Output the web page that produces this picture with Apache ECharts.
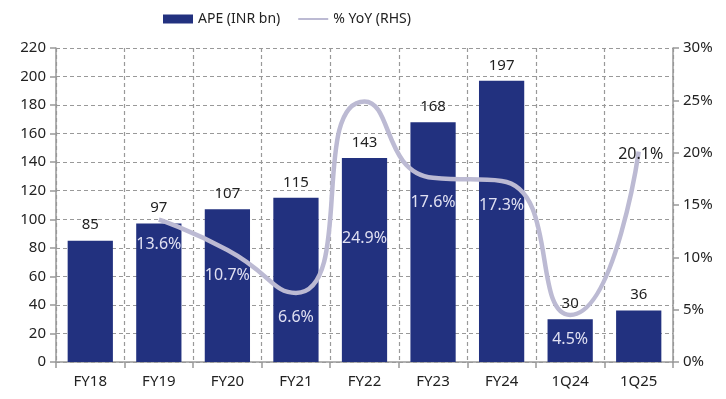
<!DOCTYPE html>
<html>
<head>
<meta charset="utf-8">
<script src="https://cdn.jsdelivr.net/npm/echarts@6/dist/echarts.min.js"></script>
<style>
  html, body { margin: 0; padding: 0; background: #fff; }
  #chart { width: 726px; height: 399px; }
</style>
</head>
<body>
<div id="chart"></div>
<script>
// 数据
let categories = ['FY18', 'FY19', 'FY20', 'FY21', 'FY22', 'FY23', 'FY24', '1Q24', '1Q25'];
let apeValues = [85, 97, 107, 115, 143, 168, 197, 30, 36];
let yoyValues = [null, 13.6, 10.7, 6.6, 24.9, 17.6, 17.3, 4.5, 20.1];
let leftTicks = [0, 220, 20];
let rightTicks = [0, 30, 5];

let font = 'Noto Sans';
let myChart = echarts.init(document.getElementById('chart'));

// YoY labels: most sit under the point, two are placed by hand
let yoyData = yoyValues.map(function (v, i) {
  if (v === null) return null;
  let item = { value: v };
  if (i === 4) {
    item.label = { offset: [0, 112] };
  } else if (i === 8) {
    item.label = { position: 'inside', offset: [2, 3], color: '#222' };
  }
  return item;
});

let option = {
  animation: false,
  textStyle: { fontFamily: font },
  legend: {
    left: 158,
    top: 7,
    itemWidth: 30,
    itemHeight: 9,
    itemGap: 18,
    textStyle: { fontSize: 14, color: '#222', fontFamily: font },
    data: [
      { name: 'APE (INR bn)', icon: 'rect' },
      { name: '% YoY (RHS)', icon: 'path://M0,4 L30,4 L30,6 L0,6 Z' }
    ]
  },
  grid: {
    left: 56,
    right: 53,
    top: 48,
    bottom: 37,
    containLabel: false
  },
  xAxis: {
    type: 'category',
    data: categories,
    axisLine: { lineStyle: { color: '#999', width: 1.5 } },
    axisTick: { show: true, length: 6, lineStyle: { color: '#999', width: 1.5 } },
    axisLabel: { color: '#222', fontSize: 15, margin: 12, fontFamily: font },
    splitLine: {
      show: true,
      lineStyle: { type: [4, 3], color: '#999', width: 1.2 }
    }
  },
  yAxis: [
    {
      type: 'value',
      min: leftTicks[0],
      max: leftTicks[1],
      interval: leftTicks[2],
      axisLine: { show: true, lineStyle: { color: '#999', width: 1.5 } },
      axisTick: { show: true, length: 6, lineStyle: { color: '#999', width: 1.5 } },
      axisLabel: { color: '#222', fontSize: 15, margin: 10, fontFamily: font },
      splitLine: {
        show: true,
        lineStyle: { type: [4, 3], color: '#999', width: 1.2 }
      }
    },
    {
      type: 'value',
      min: rightTicks[0],
      max: rightTicks[1],
      interval: rightTicks[2],
      position: 'right',
      axisLine: { show: true, lineStyle: { color: '#999', width: 1.5 } },
      axisTick: { show: true, length: 6, lineStyle: { color: '#999', width: 1.5 } },
      axisLabel: {
        color: '#222', fontSize: 15, margin: 10, fontFamily: font,
        formatter: '{value}%'
      },
      splitLine: { show: false }
    }
  ],
  series: [
    {
      name: 'APE (INR bn)',
      type: 'bar',
      barWidth: '66%',
      itemStyle: { color: '#22317f' },
      label: {
        show: true,
        position: 'top',
        distance: 8,
        color: '#222',
        fontSize: 15,
        fontFamily: font
      },
      data: apeValues
    },
    {
      name: '% YoY (RHS)',
      type: 'line',
      yAxisIndex: 1,
      smooth: 0.6,
      showSymbol: true,
      symbol: 'circle',
      symbolSize: 0,
      connectNulls: false,
      lineStyle: { color: '#bcbad3', width: 4.5 },
      itemStyle: { color: '#bcbad3' },
      label: {
        show: true,
        position: 'bottom',
        distance: 17,
        color: '#e0e0f2',
        fontSize: 16,
        fontFamily: font,
        formatter: function (p) { return p.value.toFixed(1) + '%'; }
      },
      data: yoyData
    }
  ]
};

myChart.setOption(option);
window.addEventListener('resize', () => { myChart.resize(); }, true);
</script>
</body>
</html>
